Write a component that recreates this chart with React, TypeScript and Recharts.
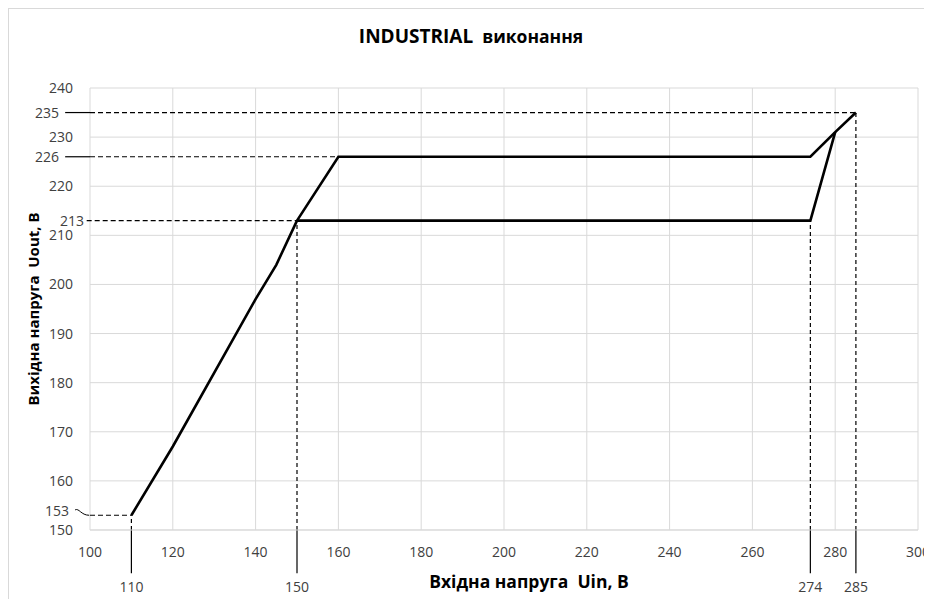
import React from 'react';
import { LineChart, Line, XAxis, YAxis, CartesianGrid, ReferenceLine, ReferenceDot } from 'recharts';

const xTicks = [100, 120, 140, 160, 180, 200, 220, 240, 260, 280, 300];
const yTicks = [150, 160, 170, 180, 190, 200, 210, 220, 230, 240];

// rising part of the characteristic
const riseIn = [110, 120, 140, 145, 150];
const riseOut = [153, 167, 197, 204, 213];
// upper branch
const upperIn = [150, 160, 274, 280, 285];
const upperOut = [213, 226, 226, 231, 235];
// lower branch
const lowerIn = [150, 274, 280];
const lowerOut = [213, 213, 231];

// marked input thresholds and the output level where each vertical guide ends
const markIn = [110, 150, 274, 285];
const markInTop = [153, 213, 213, 235];
// marked output levels and the input where each horizontal guide ends
const markOut = [153, 213, 226, 235];
const markOutEnd = [110, 150, 160, 285];

const rise = riseIn.map((u, i) => ({ u, v: riseOut[i] }));
const upper = upperIn.map((u, i) => ({ u, v: upperOut[i] }));
const lower = lowerIn.map((u, i) => ({ u, v: lowerOut[i] }));

const FONT = '"Open Sans", sans-serif';
const TICK = { fontSize: 14, fill: '#404040', fontFamily: FONT };

// left-label styling per marked output level (offset from plot edge, stub kind)
const leftStyle: Record<number, { offset: number; stub: 'solid' | 'none' | 'tilde'; start: number; dy: number }> = {
  153: { offset: 21, stub: 'tilde', start: 100, dy: -4 },
  213: { offset: 6, stub: 'none', start: 99.2, dy: 0 },
  226: { offset: 31, stub: 'solid', start: 100, dy: 0 },
  235: { offset: 31, stub: 'solid', start: 100, dy: 0 },
};

const tildeShape = (p: any) => {
  const { x1, y1, x2, y2 } = p;
  const d = `M${x1},${y1} C${x1 + 4},${y1 - 2} ${x1 + 6},${y2} ${x2},${y2}`;
  return <path d={d} stroke="#000" strokeWidth={1} fill="none" />;
};

export default function App() {
  return (
    <div
      style={{
        position: 'relative',
        width: 923,
        height: 590,
        borderLeft: '1px solid #d9d9d9',
        borderTop: '1px solid #d9d9d9',
        background: '#fff',
      }}
    >
      <div
        style={{
          position: 'absolute',
          left: 0,
          width: 924,
          top: 14,
          textAlign: 'center',
          fontFamily: FONT,
          fontWeight: 700,
          color: '#000',
          lineHeight: '26px',
        }}
      >
        <span style={{ fontSize: 19 }}>INDUSTRIAL</span>
        <span style={{ fontSize: 17.5, marginLeft: 9 }}>виконання</span>
      </div>
      <LineChart
        width={923}
        height={590}
        margin={{ top: 79, right: 14, bottom: 39, left: 0 }}
      >
        <CartesianGrid stroke="#d9d9d9" />
        <XAxis
          dataKey="u"
          type="number"
          domain={[100, 300]}
          ticks={xTicks}
          interval={0}
          height={30}
          tickLine={false}
          tickSize={6}
          tickMargin={11}
          axisLine={{ stroke: '#d9d9d9' }}
          tick={TICK}
          label={{
            content: (props: any) => {
              const vb = props.viewBox;
              return (
                <text
                  x={vb.x + vb.width / 2 + 25}
                  y={vb.y + 51}
                  textAnchor="middle"
                  dominantBaseline="central"
                  fontFamily={FONT}
                  fontWeight={700}
                  fontSize={17.5}
                  fill="#000"
                >
                  Вхідна напруга&#160;&#160;Uin, В
                </text>
              );
            },
          }}
        />
        <YAxis
          type="number"
          domain={[150, 240]}
          ticks={yTicks}
          interval={0}
          width={81}
          tickLine={false}
          tickSize={6}
          tickMargin={11}
          axisLine={false}
          tick={TICK}
          label={{
            content: (props: any) => {
              const vb = props.viewBox;
              const cx = vb.x + 24;
              const cy = vb.y + vb.height / 2;
              return (
                <text
                  x={cx}
                  y={cy}
                  transform={`rotate(-90 ${cx} ${cy})`}
                  textAnchor="middle"
                  dominantBaseline="central"
                  fontFamily={FONT}
                  fontWeight={700}
                  fontSize={15}
                  fill="#000"
                >
                  Вихідна напруга&#160;&#160;Uout, В
                </text>
              );
            },
          }}
        />

        {markOut.map((v, i) => (
          <ReferenceLine
            key={'h' + v}
            segment={[
              { x: leftStyle[v].start, y: v },
              { x: markOutEnd[i], y: v },
            ]}
            stroke="#000"
            strokeWidth={1.2}
            strokeDasharray="5 3"
            ifOverflow="visible"
          />
        ))}
        {markOut
          .filter((v) => leftStyle[v].stub === 'solid')
          .map((v) => (
            <ReferenceLine
              key={'s' + v}
              segment={[
                { x: 94, y: v },
                { x: 100, y: v },
              ]}
              stroke="#000"
              strokeWidth={1.2}
              ifOverflow="visible"
            />
          ))}
        {markOut
          .filter((v) => leftStyle[v].stub === 'tilde')
          .map((v) => (
            <ReferenceLine
              key={'t' + v}
              segment={[
                { x: 96.4, y: v + 1.1 },
                { x: 99.8, y: v },
              ]}
              shape={tildeShape}
              ifOverflow="visible"
            />
          ))}
        {markOut.map((v) => (
          <ReferenceDot
            key={'l' + v}
            x={100}
            y={v}
            r={0}
            fill="none"
            stroke="none"
            ifOverflow="visible"
            label={{ value: String(v), position: 'left', offset: leftStyle[v].offset, dy: leftStyle[v].dy, ...TICK }}
          />
        ))}

        {markIn.map((u, i) => (
          <ReferenceLine
            key={'v' + u}
            segment={[
              { x: u, y: 150 },
              { x: u, y: markInTop[i] },
            ]}
            stroke="#000"
            strokeWidth={1.2}
            strokeDasharray="4 3"
            ifOverflow="visible"
          />
        ))}
        {markIn.map((u) => (
          <ReferenceLine
            key={'b' + u}
            segment={[
              { x: u, y: 150 },
              { x: u, y: 141.2 },
            ]}
            stroke="#000"
            strokeWidth={1.2}
            ifOverflow="visible"
          />
        ))}
        {markIn.map((u) => (
          <ReferenceDot
            key={'bl' + u}
            x={u}
            y={150}
            r={0}
            fill="none"
            stroke="none"
            ifOverflow="visible"
            label={{ value: String(u), position: 'bottom', offset: 52, ...TICK }}
          />
        ))}

        <Line data={rise} dataKey="v" type="linear" stroke="#000" strokeWidth={2.6} dot={false} isAnimationActive={false} />
        <Line data={upper} dataKey="v" type="linear" stroke="#000" strokeWidth={2.6} dot={false} isAnimationActive={false} />
        <Line data={lower} dataKey="v" type="linear" stroke="#000" strokeWidth={2.6} dot={false} isAnimationActive={false} />
      </LineChart>
    </div>
  );
}
